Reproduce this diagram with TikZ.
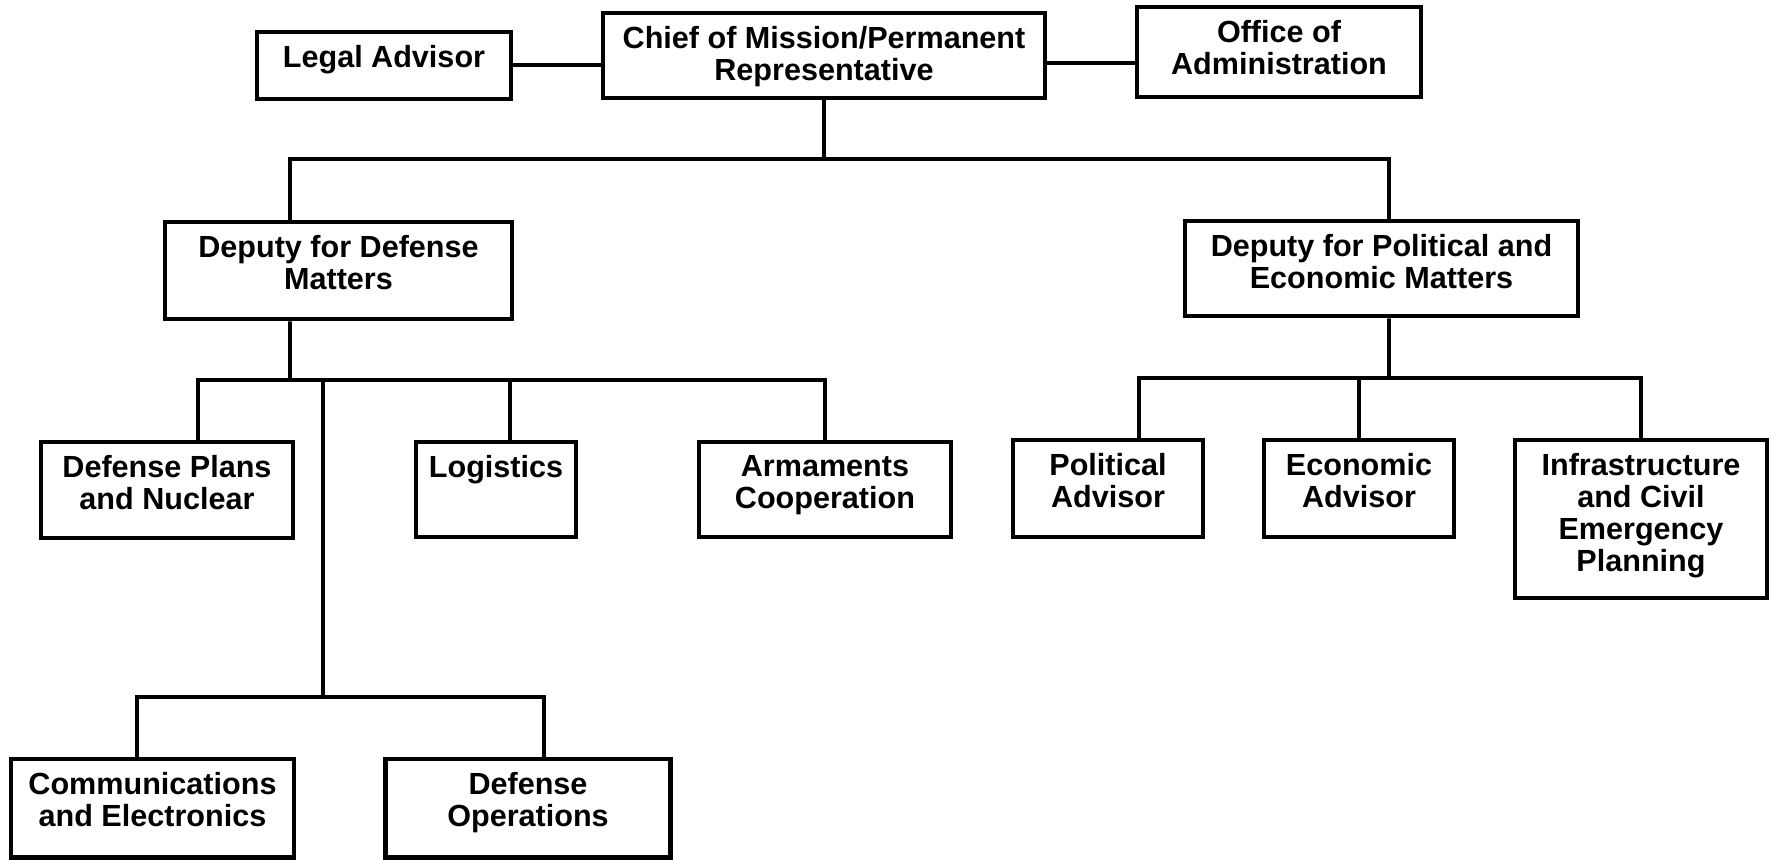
\documentclass[tikz,border=0pt]{standalone}
\usepackage{fontspec}
\setmainfont{Liberation Sans}
\usepackage{tikz}

% box with its text set at the top
\newcommand{\orgbox}[3]{\parbox[c][#2][t]{#1}{\centering\vspace*{1.35mm}#3}}

\begin{document}
\begin{tikzpicture}[line width=1.1pt,
    office/.style={draw, line width=1.3pt, inner sep=0pt,
      font=\bfseries\fontsize{8.7}{9.1}\selectfont}]
    \useasboundingbox (0,0) rectangle (17.72,-8.59);
    % Top level
    \node[office] (legal) at (3.84,-0.655) {\orgbox{2.54cm}{0.67cm}{Legal Advisor}};
    \node[office] (chief) at (8.24,-0.555) {\orgbox{4.42cm}{0.85cm}{Chief of Mission/Permanent\\Representative}};
    \node[office] (admin) at (12.79,-0.52) {\orgbox{2.84cm}{0.90cm}{Office of\\Administration}};
    % Deputies
    \node[office] (defdep) at (3.385,-2.705) {\orgbox{3.47cm}{0.97cm}{Deputy for Defense\\Matters}};
    \node[office] (poldep) at (13.815,-2.685) {\orgbox{3.93cm}{0.95cm}{Deputy for Political and\\Economic Matters}};
    % Defense side
    \node[office] (plans) at (1.67,-4.90) {\orgbox{2.52cm}{0.96cm}{Defense Plans\\and Nuclear}};
    \node[office] (logistics) at (4.96,-4.895) {\orgbox{1.60cm}{0.95cm}{Logistics}};
    \node[office] (arms) at (8.25,-4.895) {\orgbox{2.52cm}{0.95cm}{Armaments\\Cooperation}};
    \node[office] (comms) at (1.525,-8.0825) {\orgbox{2.83cm}{0.985cm}{Communications\\and Electronics}};
    \node[office] (defops) at (5.28,-8.0825) {\orgbox{2.85cm}{0.985cm}{Defense\\Operations}};
    % Political side
    \node[office] (political) at (11.08,-4.885) {\orgbox{1.90cm}{0.97cm}{Political\\Advisor}};
    \node[office] (economic) at (13.59,-4.885) {\orgbox{1.90cm}{0.97cm}{Economic\\Advisor}};
    \node[office] (infra) at (16.41,-5.19) {\orgbox{2.52cm}{1.58cm}{Infrastructure\\and Civil\\Emergency\\Planning}};
    % Junctions
    \coordinate (j1) at (8.24,-1.59);
    \coordinate (j2) at (2.90,-3.80);
    \coordinate (j3) at (3.23,-3.80);
    \coordinate (j4) at (3.23,-6.97);
    \coordinate (j5) at (13.89,-3.78);
    % Staff lines
    \draw ([yshift=0.005cm]legal.east) -- ([yshift=0.005cm]legal.east -| chief.west);
    \draw ([yshift=-0.075cm]chief.east) -- ([yshift=-0.075cm]chief.east -| admin.west);
    % Chief to deputies
    \draw (chief) -- (j1);
    \draw ([xshift=-0.485cm]defdep.north) |- (j1) -| ([xshift=0.075cm]poldep.north);
    % Defense branches
    \draw ([xshift=-0.485cm]defdep.south) -- (j2);
    \draw ([xshift=0.31cm]plans.north) |- (arms.north |- j2) -- (arms.north);
    \draw ([xshift=0.14cm]logistics.north) -- ([xshift=0.14cm]logistics.north |- j2);
    \draw (j3) -- (j4);
    \draw ([xshift=-0.155cm]comms.north) |- (j4) -| ([xshift=0.16cm]defops.north);
    % Political branches
    \draw ([xshift=0.075cm]poldep.south) -- (j5);
    \draw ([xshift=0.31cm]political.north) |- (infra.north |- j5) -- (infra.north);
    \draw (economic.north) -- (economic.north |- j5);
\end{tikzpicture}
\end{document}
